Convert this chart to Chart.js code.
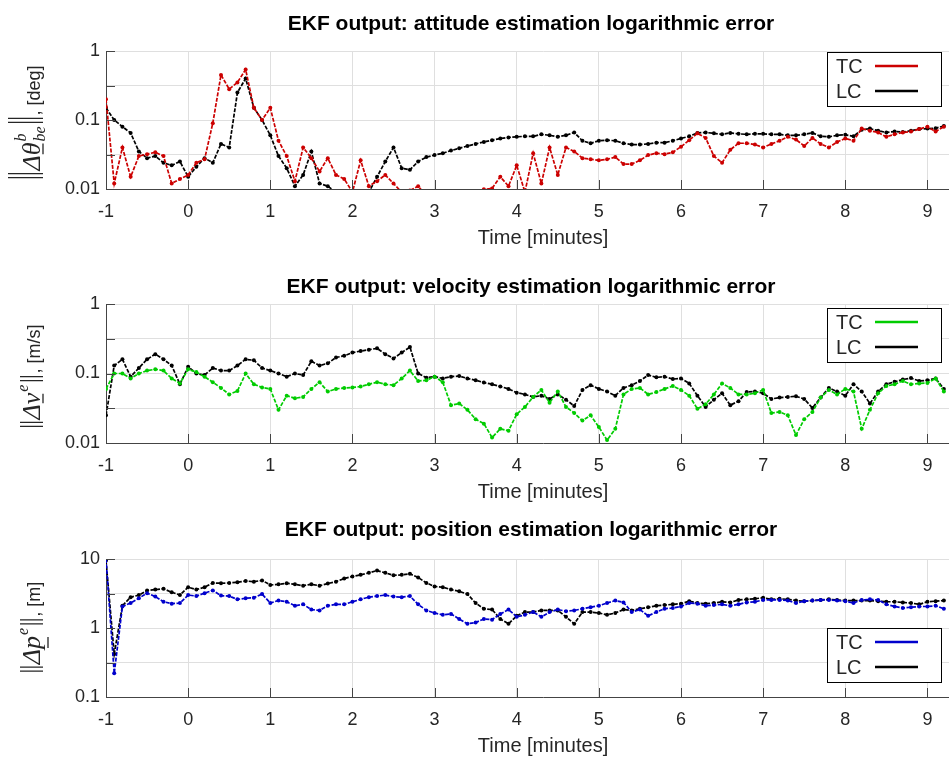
<!DOCTYPE html>
<html>
<head>
<meta charset="utf-8">
<title>EKF output: logarithmic errors</title>
<script src="https://cdn.jsdelivr.net/npm/chart.js@4.4.1/dist/chart.umd.min.js"></script>
<style>
  html, body { margin: 0; padding: 0; background: #fff; }
  #wrap { position: relative; width: 949px; height: 758px; overflow: hidden; }
  #wrap canvas { position: absolute; left: 0; top: 0; }
</style>
</head>
<body>
<div id="wrap">
  <!-- canvases are wider than the page: the axes run on past the right edge, as in the original figure -->
  <canvas id="attChart" width="982" height="758"></canvas>
  <canvas id="velChart" width="982" height="758"></canvas>
  <canvas id="posChart" width="982" height="758"></canvas>
</div>
<script>
// Sample times (minutes), shared by every series
const minutes = [
  -1, -0.9, -0.8, -0.7, -0.6, -0.5, -0.4, -0.3, -0.2, -0.1,
  0, 0.1, 0.2, 0.3, 0.4, 0.5, 0.6, 0.7, 0.8, 0.9,
  1, 1.1, 1.2, 1.3, 1.4, 1.5, 1.6, 1.7, 1.8, 1.9,
  2, 2.1, 2.2, 2.3, 2.4, 2.5, 2.6, 2.7, 2.8, 2.9,
  3, 3.1, 3.2, 3.3, 3.4, 3.5, 3.6, 3.7, 3.8, 3.9,
  4, 4.1, 4.2, 4.3, 4.4, 4.5, 4.6, 4.7, 4.8, 4.9,
  5, 5.1, 5.2, 5.3, 5.4, 5.5, 5.6, 5.7, 5.8, 5.9,
  6, 6.1, 6.2, 6.3, 6.4, 6.5, 6.6, 6.7, 6.8, 6.9,
  7, 7.1, 7.2, 7.3, 7.4, 7.5, 7.6, 7.7, 7.8, 7.9,
  8, 8.1, 8.2, 8.3, 8.4, 8.5, 8.6, 8.7, 8.8, 8.9,
  9, 9.1, 9.2
];
const xTicks = [-1, 0, 1, 2, 3, 4, 5, 6, 7, 8, 9];

// Attitude error [deg]
const attTC = [
  0.2, 0.012, 0.04, 0.015, 0.03, 0.032, 0.034, 0.03, 0.012, 0.014,
  0.016, 0.024, 0.027, 0.09, 0.45, 0.28, 0.35, 0.54, 0.15, 0.1,
  0.15, 0.05, 0.03, 0.013, 0.04, 0.028, 0.018, 0.028, 0.016, 0.014,
  0.009, 0.026, 0.011, 0.013, 0.016, 0.012, 0.009, 0.0095, 0.011, 0.008,
  0.007, 0.006, 0.006, 0.005, 0.006, 0.007, 0.0099, 0.0102, 0.015, 0.011,
  0.022, 0.009, 0.033, 0.012, 0.04, 0.016, 0.04, 0.035, 0.028, 0.027,
  0.026, 0.027, 0.029, 0.023, 0.023, 0.026, 0.031, 0.033, 0.032, 0.034,
  0.041, 0.051, 0.064, 0.055, 0.03, 0.024, 0.037, 0.046, 0.046, 0.044,
  0.04, 0.045, 0.05, 0.057, 0.052, 0.042, 0.055, 0.045, 0.04, 0.048,
  0.054, 0.05, 0.075, 0.07, 0.066, 0.057, 0.062, 0.066, 0.068, 0.074,
  0.08, 0.068, 0.08
];
const attLC = [
  0.15, 0.1, 0.08, 0.065, 0.035, 0.028, 0.03, 0.024, 0.022, 0.025,
  0.015, 0.021, 0.028, 0.024, 0.045, 0.04, 0.25, 0.4, 0.15, 0.1,
  0.06, 0.03, 0.02, 0.011, 0.016, 0.035, 0.012, 0.011, 0.009, 0.008,
  0.009, 0.008, 0.009, 0.015, 0.025, 0.04, 0.02, 0.019, 0.025, 0.029,
  0.031, 0.033, 0.036, 0.039, 0.042, 0.045, 0.048, 0.051, 0.054, 0.056,
  0.057, 0.058, 0.058, 0.062, 0.06, 0.057, 0.06, 0.066, 0.05, 0.046,
  0.05, 0.051, 0.05, 0.046, 0.044, 0.044, 0.045, 0.047, 0.047, 0.05,
  0.054, 0.058, 0.065, 0.066, 0.064, 0.062, 0.065, 0.063, 0.062, 0.063,
  0.063, 0.062, 0.062, 0.06, 0.06, 0.062, 0.065, 0.058, 0.057, 0.06,
  0.061, 0.058, 0.072, 0.075, 0.07, 0.066, 0.068, 0.067, 0.07, 0.074,
  0.075, 0.076, 0.082
];
const attTicks = [0.01, 0.0316, 0.1, 0.316, 1];
const attTickLabels = ['0.01', '', '0.1', '', '1'];

// Velocity error [m/s]
const velTC = [
  0.06, 0.1, 0.1, 0.085, 0.1, 0.11, 0.115, 0.11, 0.085, 0.072,
  0.115, 0.105, 0.09, 0.075, 0.062, 0.05, 0.056, 0.1, 0.07, 0.063,
  0.06, 0.03, 0.048, 0.044, 0.046, 0.06, 0.075, 0.055, 0.06, 0.062,
  0.063, 0.065, 0.07, 0.075, 0.07, 0.068, 0.085, 0.11, 0.078, 0.08,
  0.09, 0.075, 0.035, 0.037, 0.03, 0.022, 0.019, 0.012, 0.016, 0.015,
  0.026, 0.033, 0.046, 0.058, 0.038, 0.055, 0.033, 0.027, 0.021, 0.025,
  0.017, 0.011, 0.016, 0.05, 0.06, 0.062, 0.05, 0.054, 0.06, 0.066,
  0.058, 0.048, 0.031, 0.036, 0.05, 0.072, 0.062, 0.05, 0.05, 0.052,
  0.058, 0.027, 0.028, 0.025, 0.013, 0.022, 0.028, 0.045, 0.058, 0.05,
  0.06, 0.055, 0.016, 0.03, 0.052, 0.066, 0.07, 0.078, 0.07, 0.072,
  0.073, 0.085, 0.055
];
const velLC = [
  0.025, 0.13, 0.16, 0.09, 0.12, 0.16, 0.19, 0.16, 0.13, 0.07,
  0.125, 0.1, 0.095, 0.12, 0.11, 0.11, 0.13, 0.16, 0.155, 0.12,
  0.11, 0.1, 0.09, 0.1, 0.095, 0.15, 0.13, 0.14, 0.17, 0.18,
  0.2, 0.21, 0.22, 0.23, 0.19, 0.165, 0.2, 0.24, 0.1, 0.087,
  0.09, 0.085, 0.09, 0.092, 0.085, 0.08, 0.074, 0.07, 0.065, 0.06,
  0.053, 0.05, 0.046, 0.048, 0.043, 0.05, 0.042, 0.034, 0.058, 0.068,
  0.06, 0.055, 0.048, 0.062, 0.068, 0.078, 0.095, 0.088, 0.09, 0.083,
  0.085, 0.072, 0.048, 0.033, 0.042, 0.052, 0.035, 0.04, 0.054, 0.055,
  0.052, 0.043, 0.045, 0.046, 0.047, 0.043, 0.032, 0.045, 0.062, 0.055,
  0.048, 0.07, 0.055, 0.037, 0.055, 0.07, 0.076, 0.082, 0.086, 0.078,
  0.08, 0.085, 0.06
];
const velTicks = [0.01, 0.0316, 0.1, 0.316, 1];
const velTickLabels = ['0.01', '', '0.1', '', '1'];

// Position error [m]
const posTC = [
  10, 0.22, 2.05, 2.3, 2.7, 3.2, 2.85, 2.4, 2.25, 2.3,
  3.0, 2.9, 3.2, 3.5, 2.95, 2.9, 2.6, 2.7, 2.75, 3.1,
  2.3, 2.5, 2.4, 2.1, 2.2, 1.85, 1.8, 2.1, 2.2, 2.2,
  2.4, 2.6, 2.8, 2.9, 3.0, 2.85, 2.8, 2.9, 2.2, 1.8,
  1.65, 1.55, 1.6, 1.35, 1.15, 1.2, 1.35, 1.32, 1.6, 1.85,
  1.45, 1.55, 1.7, 1.45, 1.7, 1.85, 1.75, 1.8, 1.9, 2.0,
  2.1, 2.3, 2.5, 2.35, 1.7, 1.85, 1.5, 1.7, 1.9, 1.95,
  2.05, 2.3, 2.25, 2.1, 2.15, 2.2, 2.1, 2.2, 2.35, 2.4,
  2.55, 2.55, 2.55, 2.5, 2.3, 2.45, 2.5, 2.55, 2.55, 2.5,
  2.45, 2.3, 2.55, 2.6, 2.55, 2.2, 2.05, 1.95, 2.0, 2.05,
  2.05, 2.1, 1.9
];
const posLC = [
  9.5, 0.42, 2.1, 2.8, 3.0, 3.5, 3.6, 3.7, 3.3, 3.0,
  3.9, 3.6, 3.9, 4.5, 4.45, 4.5, 4.6, 4.8, 4.7, 4.9,
  4.2, 4.3, 4.45, 4.3, 4.1, 4.3, 4.1, 4.4, 4.7, 5.2,
  5.6, 5.9, 6.3, 6.8, 6.3, 5.8, 5.9, 6.1, 5.4, 4.5,
  4.0, 3.9, 3.6, 3.4, 3.1, 2.3, 1.9, 1.85, 1.35, 1.15,
  1.5, 1.7, 1.7, 1.8, 1.8, 1.8, 1.45, 1.15, 1.7, 1.7,
  1.65, 1.55, 1.65, 1.85, 1.8, 1.9, 2.0, 2.1, 2.15, 2.2,
  2.25, 2.45, 2.3, 2.25, 2.3, 2.4, 2.35, 2.55, 2.6, 2.65,
  2.75, 2.6, 2.65, 2.6, 2.5, 2.45, 2.5, 2.55, 2.6, 2.55,
  2.5, 2.5, 2.5, 2.5, 2.45, 2.4, 2.4, 2.35, 2.3, 2.2,
  2.4, 2.45, 2.5
];
const posTicks = [0.1, 0.316, 1, 3.16, 10];
const posTickLabels = ['0.1', '', '1', '', '10'];

const AXIS_COLOR = '#444444';
const GRID_COLOR = '#dfdfdf';
const TEXT_COLOR = '#262626';
const MATH_FONT = 'italic 26px "Liberation Serif"';
const SCRIPT_FONT = 'italic 16px "Liberation Serif"';
const LABEL_FONT = '18px "Liberation Sans"';

Chart.defaults.font.family = '"Liberation Sans", Arial, sans-serif';
Chart.defaults.color = TEXT_COLOR;

function toPoints(values) {
  return values.map((v, i) => ({ x: minutes[i], y: v }));
}

// Rotated y-axis label with simple math pieces (bars, sup/sub, underline)
function drawRichLabel(ctx, parts, baseX, midY) {
  const widths = parts.map(p => {
    if (p.bars) return 10;
    ctx.font = p.font;
    if (p.stack) return Math.max(...p.stack.map(s => ctx.measureText(s.text).width)) + 2;
    return ctx.measureText(p.text).width + (p.gap || 0);
  });
  const total = widths.reduce((a, b) => a + b, 0);
  ctx.save();
  ctx.translate(baseX, midY);
  ctx.rotate(-Math.PI / 2);
  ctx.fillStyle = TEXT_COLOR;
  ctx.strokeStyle = TEXT_COLOR;
  ctx.textAlign = 'left';
  ctx.textBaseline = 'alphabetic';
  let u = -total / 2;
  parts.forEach((p, i) => {
    if (p.bars) {
      ctx.lineWidth = 1.3;
      ctx.beginPath();
      [u + 3, u + 7].forEach(b => { ctx.moveTo(b, p.down); ctx.lineTo(b, -p.up); });
      ctx.stroke();
    } else if (p.stack) {
      ctx.font = p.font;
      p.stack.forEach(s => ctx.fillText(s.text, u + 1, -s.dy));
    } else {
      ctx.font = p.font;
      ctx.fillText(p.text, u, 0);
      if (p.underline !== undefined) {
        ctx.lineWidth = 1.3;
        ctx.beginPath();
        ctx.moveTo(u + 1, p.underline);
        ctx.lineTo(u + widths[i] - 1, p.underline);
        ctx.stroke();
      }
    }
    u += widths[i];
  });
  ctx.restore();
}

function makeDecor(panel) {
  return {
    id: 'panelDecor',
    afterDraw(chart) {
      const ctx = chart.ctx;
      const area = chart.chartArea;
      const xs = chart.scales.x;
      const ys = chart.scales.y;
      ctx.save();

      // tick marks pointing into the axes
      ctx.strokeStyle = AXIS_COLOR;
      ctx.lineWidth = 1;
      ctx.beginPath();
      xs.ticks.forEach(t => {
        const px = Math.round(xs.getPixelForValue(t.value)) + 0.5;
        ctx.moveTo(px, area.bottom);
        ctx.lineTo(px, area.bottom - 9);
      });
      ys.ticks.forEach(t => {
        const py = Math.round(ys.getPixelForValue(t.value)) + 0.5;
        ctx.moveTo(area.left, py);
        ctx.lineTo(area.left + 9, py);
      });
      ctx.stroke();

      // panel title
      ctx.font = 'bold 21px "Liberation Sans"';
      ctx.fillStyle = '#000';
      ctx.textAlign = 'center';
      ctx.textBaseline = 'alphabetic';
      ctx.fillText(panel.title, 531, panel.titleBase);

      drawRichLabel(ctx, panel.yLabel, 40, panel.yLabelMid);

      // legend box
      const lx = 827, lw = 114, lh = 54, ly = panel.legendTop;
      ctx.fillStyle = '#fff';
      ctx.fillRect(lx, ly, lw, lh);
      ctx.strokeStyle = '#000';
      ctx.lineWidth = 1;
      ctx.strokeRect(lx + 0.5, ly + 0.5, lw, lh);
      ctx.font = '20px "Liberation Sans"';
      ctx.textAlign = 'left';
      ctx.textBaseline = 'middle';
      chart.data.datasets.forEach((ds, i) => {
        const ry = ly + 14 + i * 25;
        ctx.fillStyle = TEXT_COLOR;
        ctx.fillText(ds.label, lx + 9, ry + 1);
        ctx.strokeStyle = ds.borderColor;
        ctx.lineWidth = 2.5;
        ctx.beginPath();
        ctx.moveTo(lx + 48, ry);
        ctx.lineTo(lx + 91, ry);
        ctx.stroke();
      });
      ctx.restore();
    }
  };
}

function seriesStyle(color) {
  return {
    borderColor: color,
    backgroundColor: color,
    borderWidth: 1.7,
    borderDash: [4, 1.5],
    pointRadius: 2,
    pointBorderWidth: 0,
    pointBackgroundColor: color,
    pointHoverRadius: 0,
    tension: 0,
    fill: false
  };
}

function makePanel(panel) {
  const ctx = document.getElementById(panel.canvas);
  return new Chart(ctx, {
    type: 'line',
    data: {
      datasets: [
        Object.assign({ label: 'TC', data: toPoints(panel.tc) }, seriesStyle(panel.tcColor)),
        Object.assign({ label: 'LC', data: toPoints(panel.lc) }, seriesStyle('#000000'))
      ]
    },
    options: {
      responsive: false,
      animation: false,
      devicePixelRatio: 1,
      events: [],
      layout: {
        padding: { top: panel.top, left: 0, right: 0, bottom: 758 - panel.bottom - 61 }
      },
      plugins: {
        legend: { display: false },
        title: { display: false },
        tooltip: { enabled: false }
      },
      scales: {
        x: {
          type: 'linear',
          min: -1,
          max: 9.64,
          afterBuildTicks: (scale) => { scale.ticks = xTicks.map(v => ({ value: v })); },
          afterFit: (scale) => { scale.height = 61; },
          ticks: {
            includeBounds: false,
            autoSkip: false,
            maxRotation: 0,
            padding: 12,
            font: { size: 18 },
            color: TEXT_COLOR,
            callback: (value) => String(value)
          },
          grid: { color: GRID_COLOR, lineWidth: 1, drawTicks: false },
          border: { display: true, color: AXIS_COLOR, width: 1 },
          title: {
            display: true,
            text: 'Time [minutes]',
            font: { size: 20 },
            color: TEXT_COLOR,
            padding: { top: 0, bottom: 0 }
          }
        },
        y: {
          type: 'logarithmic',
          min: panel.ticks[0],
          max: panel.ticks[panel.ticks.length - 1],
          afterBuildTicks: (scale) => { scale.ticks = panel.ticks.map(v => ({ value: v })); },
          afterFit: (scale) => { scale.width = 106; },
          ticks: {
            autoSkip: false,
            padding: 6,
            font: { size: 18 },
            color: TEXT_COLOR,
            callback: (value, index) => panel.tickLabels[index]
          },
          grid: { color: GRID_COLOR, lineWidth: 1, drawTicks: false },
          border: { display: true, color: AXIS_COLOR, width: 1 }
        }
      }
    },
    plugins: [makeDecor(panel)]
  });
}

makePanel({
  canvas: 'attChart',
  title: 'EKF output: attitude estimation logarithmic error',
  titleBase: 30,
  top: 51, bottom: 189,
  legendTop: 52,
  tc: attTC, lc: attLC, tcColor: '#cc0000',
  ticks: attTicks, tickLabels: attTickLabels,
  yLabelMid: 123,
  yLabel: [
    { bars: true, up: 32, down: 3 },
    { text: 'Δ', font: MATH_FONT },
    { text: 'θ', font: MATH_FONT, underline: 3 },
    { stack: [{ text: 'b', dy: 14 }, { text: 'be', dy: -5 }], font: SCRIPT_FONT },
    { bars: true, up: 32, down: 3 },
    { text: ', [deg]', font: LABEL_FONT }
  ]
});

makePanel({
  canvas: 'velChart',
  title: 'EKF output: velocity estimation logarithmic error',
  titleBase: 293,
  top: 304, bottom: 443,
  legendTop: 308,
  tc: velTC, lc: velLC, tcColor: '#00cc00',
  ticks: velTicks, tickLabels: velTickLabels,
  yLabelMid: 377,
  yLabel: [
    { bars: true, up: 20, down: 3 },
    { text: 'Δ', font: MATH_FONT },
    { text: 'v', font: MATH_FONT, underline: 3 },
    { stack: [{ text: 'e', dy: 12 }], font: SCRIPT_FONT },
    { bars: true, up: 20, down: 3 },
    { text: ', [m/s]', font: LABEL_FONT }
  ]
});

makePanel({
  canvas: 'posChart',
  title: 'EKF output: position estimation logarithmic error',
  titleBase: 536,
  top: 559, bottom: 697,
  legendTop: 628,
  tc: posTC, lc: posLC, tcColor: '#0000cc',
  ticks: posTicks, tickLabels: posTickLabels,
  yLabelMid: 628,
  yLabel: [
    { bars: true, up: 20, down: 3 },
    { text: 'Δ', font: MATH_FONT },
    { text: 'p', font: MATH_FONT, underline: 8 },
    { stack: [{ text: 'e', dy: 12 }], font: SCRIPT_FONT },
    { bars: true, up: 20, down: 3 },
    { text: ', [m]', font: LABEL_FONT }
  ]
});
</script>
</body>
</html>
